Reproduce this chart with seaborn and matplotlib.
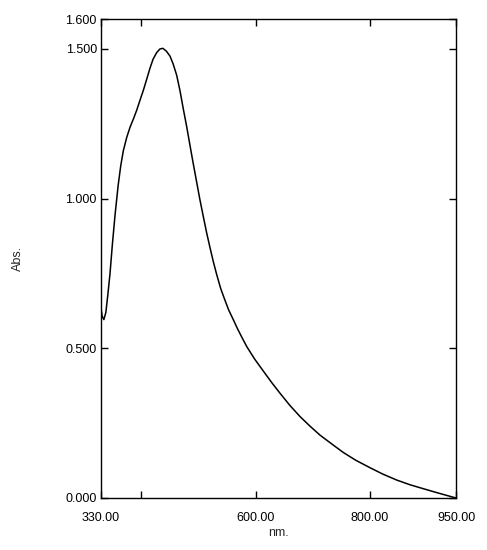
import numpy as np
import pandas as pd
import seaborn as sns
import matplotlib
matplotlib.use("Agg")
import matplotlib.pyplot as plt

# absorbance spectrum
wavelength = [330, 332, 335, 338.5, 342, 345.7, 350, 354.5, 360, 364.5,
              369, 375, 381, 387, 392.3, 398, 404, 410, 415.6, 421,
              427.3, 433, 438, 444, 450.5, 456, 462.2, 468, 473.7, 479.7,
              485.4, 491, 497.1, 502.9, 508.7, 514.6, 520.4, 526.1, 532.1, 539,
              546.6, 553, 561, 568, 575.7, 584.5, 598, 613.5, 628, 642.6,
              660, 677.6, 695, 712.5, 732, 753.2, 775, 800, 822, 846.4,
              870, 893, 920, 950]
absorbance = [0.635, 0.607, 0.596, 0.620, 0.680, 0.749, 0.850, 0.945, 1.045, 1.110,
              1.160, 1.205, 1.240, 1.268, 1.295, 1.328, 1.362, 1.400, 1.436, 1.466,
              1.488, 1.500, 1.502, 1.493, 1.476, 1.450, 1.412, 1.360, 1.300, 1.240,
              1.178, 1.118, 1.055, 0.995, 0.940, 0.885, 0.836, 0.790, 0.746, 0.700,
              0.660, 0.628, 0.596, 0.567, 0.538, 0.506, 0.465, 0.424, 0.386, 0.350,
              0.309, 0.272, 0.240, 0.210, 0.182, 0.152, 0.126, 0.101, 0.080, 0.060,
              0.044, 0.031, 0.016, 0.000]

x_ticks = [330, 400, 600, 800, 950]
x_ticklabels = ["330.00", "", "600.00", "800.00", "950.00"]
y_ticks = [0.0, 0.5, 1.0, 1.5, 1.6]
y_ticklabels = ["0.000", "0.500", "1.000", "1.500", "1.600"]

df = pd.DataFrame({"nm": wavelength, "abs": absorbance})

sns.set_style("ticks")
plt.rcParams["font.family"] = ["Liberation Sans", "DejaVu Sans"]

fig = plt.figure(figsize=(4.87, 5.5), dpi=100)
ax = fig.add_axes([101 / 487, 52 / 550, 355 / 487, 479 / 550])

sns.lineplot(data=df, x="nm", y="abs", ax=ax, color="black", linewidth=1.1)

ax.set_xlim(330, 950)
ax.set_ylim(0, 1.6)
ax.set_xticks(x_ticks)
ax.set_xticklabels(x_ticklabels)
ax.set_yticks(y_ticks)
ax.set_yticklabels(y_ticklabels)
ax.tick_params(direction="in", top=True, right=True, length=5, width=1,
               labelsize=9, colors="black")
ax.tick_params(axis="x", pad=10)
ax.tick_params(axis="y", pad=3)
for s in ax.spines.values():
    s.set_linewidth(1.0)
    s.set_color("black")

ax.set_xlabel("nm.", fontsize=9, labelpad=2)
ax.set_ylabel("Abs.", fontsize=9, labelpad=30)

fig.savefig("out.png", dpi=100)
